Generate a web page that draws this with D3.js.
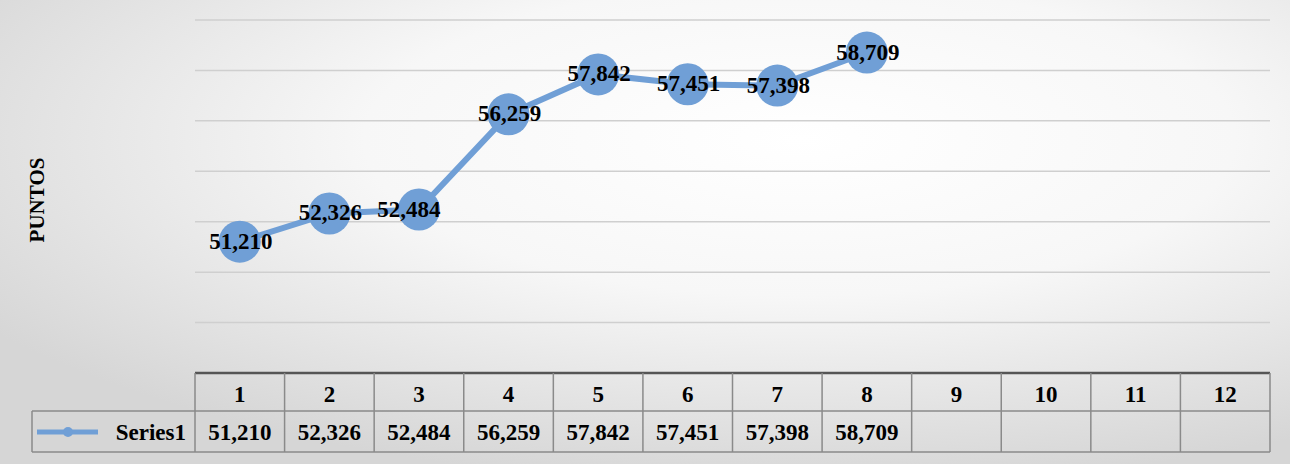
<!DOCTYPE html>
<html><head><meta charset="utf-8">
<script src="https://cdn.jsdelivr.net/npm/d3@7"></script>
<style>body{margin:0;}svg{display:block;} text{font-family:'Liberation Serif','Times New Roman','DejaVu Serif',serif;font-weight:bold;}</style>
</head><body><svg id="c" width="1290" height="464"></svg>
<script>
const categories = ["1","2","3","4","5","6","7","8","9","10","11","12"];
const values = [51210,52326,52484,56259,57842,57451,57398,58709];
const seriesName = "Series1";
const yTicks = [46000,48000,50000,52000,54000,56000,58000,60000];

const svg = d3.select("#c");
const defs = svg.append("defs");
const g = defs.append("radialGradient").attr("id","bg").attr("cx","0.62").attr("cy","0.3").attr("r","0.75");
g.append("stop").attr("offset","0").attr("stop-color","#ffffff");
g.append("stop").attr("offset","0.45").attr("stop-color","#f7f7f7");
g.append("stop").attr("offset","1").attr("stop-color","#d6d6d6");
svg.append("rect").attr("width",1290).attr("height",464).attr("fill","url(#bg)");

const L = 195, R = 1270, T = 20, B = 373;
const x = d3.scaleBand().domain(categories).range([L,R]);
const y = d3.scaleLinear().domain([46000,60000]).range([B,T]);

svg.append("g").selectAll("line").data(yTicks.slice(1)).join("line")
  .attr("x1",L).attr("x2",R).attr("y1",d=>y(d)).attr("y2",d=>y(d))
  .attr("stroke","#cfcfcf").attr("stroke-width",1.5);

const cx = (d,i)=>x(categories[i])+x.bandwidth()/2;
svg.append("path").datum(values)
  .attr("d", d3.line().x((d,i)=>cx(d,i)).y(d=>y(d)))
  .attr("fill","none").attr("stroke","#709fd6").attr("stroke-width",6);
svg.append("g").selectAll("circle").data(values).join("circle")
  .attr("cx",cx).attr("cy",d=>y(d)).attr("r",21).attr("fill","#709fd6");
svg.append("g").selectAll("text").data(values).join("text")
  .attr("x",(d,i)=>cx(d,i)+ (i==2?-10:1)).attr("y",(d,i)=>y(d)+7)
  .attr("text-anchor","middle").attr("font-size",23).text(d=>d3.format(",")(d));

svg.append("text").attr("transform","translate(44,200) rotate(-90)").attr("text-anchor","middle")
  .attr("font-size",21).text("PUNTOS");

// data table
const r1 = 373, r2 = 411, r3 = 452, left = 32;
const tg = svg.append("g").attr("stroke","#8a8a8a").attr("stroke-width",1.5);
tg.append("line").attr("x1",L).attr("x2",R).attr("y1",r1).attr("y2",r1).attr("stroke","#555").attr("stroke-width",2.5);
tg.append("line").attr("x1",left).attr("x2",R).attr("y1",r2).attr("y2",r2);
tg.append("line").attr("x1",left).attr("x2",R).attr("y1",r3).attr("y2",r3);
tg.append("line").attr("x1",left).attr("x2",left).attr("y1",r2).attr("y2",r3);
tg.selectAll("line.v").data(categories.concat(["end"])).join("line").attr("class","v")
  .attr("x1",(d,i)=>L+i*x.bandwidth()).attr("x2",(d,i)=>L+i*x.bandwidth()).attr("y1",r1).attr("y2",r3);
svg.append("g").selectAll("text").data(categories).join("text")
  .attr("x",d=>x(d)+x.bandwidth()/2).attr("y",r1+29).attr("text-anchor","middle")
  .attr("font-size",23).text(d=>d);
svg.append("g").selectAll("text").data(values).join("text")
  .attr("x",(d,i)=>cx(d,i)).attr("y",r2+29).attr("text-anchor","middle")
  .attr("font-size",23).text(d=>d3.format(",")(d));
svg.append("line").attr("x1",37).attr("x2",98).attr("y1",r2+21).attr("y2",r2+21).attr("stroke","#709fd6").attr("stroke-width",5);
svg.append("circle").attr("cx",68).attr("cy",r2+21).attr("r",5).attr("fill","#709fd6");
svg.append("text").attr("x",186).attr("y",r2+29).attr("text-anchor","end")
  .attr("font-size",23).text(seriesName);
</script></body></html>
